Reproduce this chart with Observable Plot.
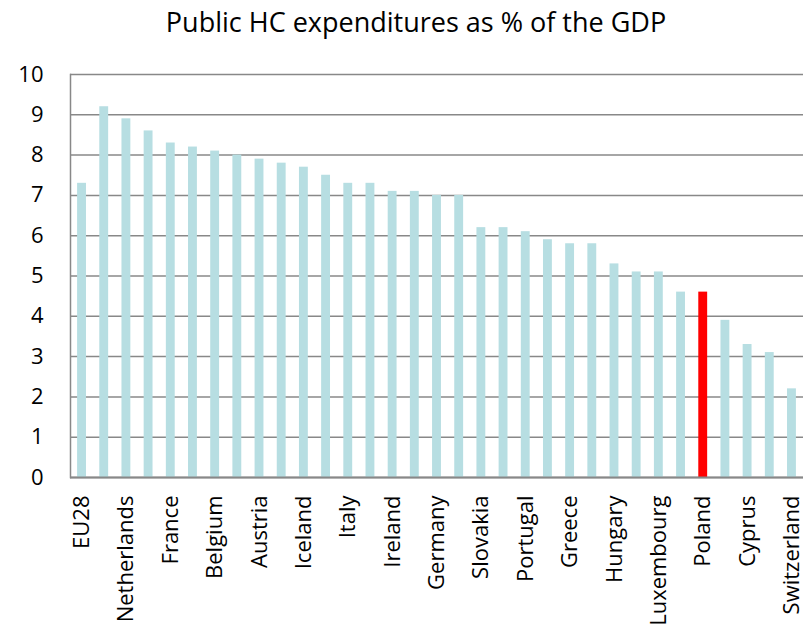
<!DOCTYPE html>
<html>
<head>
<meta charset="utf-8">
<script src="https://cdn.jsdelivr.net/npm/d3@7"></script>
<script src="https://cdn.jsdelivr.net/npm/@observablehq/plot@0.6"></script>
<style>
  html, body { margin: 0; padding: 0; background: #fff; }
  #wrap { position: relative; width: 807px; height: 627px; overflow: hidden; }
  #title { position: absolute; left: 25px; right: 0; top: 8px; text-align: center;
           font-family: "Open Sans", sans-serif; font-size: 27px; line-height: 27px; color: #000; }
  #chart { position: absolute; left: 0; top: 0; }
</style>
</head>
<body>
<div id="wrap">
  <div id="chart"></div>
  <div id="title">Public HC expenditures as % of the GDP</div>
</div>
<script>
const countries = [
  "EU28", "Denmark", "Netherlands", "Sweden", "France", "Norway", "Belgium", "Finland",
  "Austria", "United Kingdom", "Iceland", "Slovenia", "Italy", "Spain", "Ireland", "Czech Republic",
  "Germany", "Croatia", "Slovakia", "Estonia", "Portugal", "Lithuania", "Greece", "Malta",
  "Hungary", "Bulgaria", "Luxembourg", "Latvia", "Poland", "Romania", "Cyprus", "Liechtenstein",
  "Switzerland"
];
const values = [
  7.3, 9.2, 8.9, 8.6, 8.3, 8.2, 8.1, 8.0,
  7.9, 7.8, 7.7, 7.5, 7.3, 7.3, 7.1, 7.1,
  7.0, 7.0, 6.2, 6.2, 6.1, 5.9, 5.8, 5.8,
  5.3, 5.1, 5.1, 4.6, 4.6, 3.9, 3.3, 3.1,
  2.2
];
const tickLabels = [
  "EU28", "Netherlands", "France", "Belgium", "Austria", "Iceland", "Italy", "Ireland",
  "Germany", "Slovakia", "Portugal", "Greece", "Hungary", "Luxembourg", "Poland", "Cyprus",
  "Switzerland"
];
const yTicks = [0, 1, 2, 3, 4, 5, 6, 7, 8, 9, 10];
const highlight = "Poland";

const data = countries.map((c, i) => ({country: c, value: values[i]}));
const barColor = "#b7dee2";
const highlightColor = "#ff0000";
const gridColor = "#888888";

const chart = Plot.plot({
  width: 807,
  height: 627,
  marginTop: 74,
  marginBottom: 150,
  marginLeft: 70,
  marginRight: 4,
  style: {fontFamily: "'Open Sans', sans-serif", fontSize: "22px", color: "#000", background: "#fff"},
  x: {domain: countries, paddingInner: 0.6, paddingOuter: 0.32, round: false, label: null},
  y: {domain: [0, 10], label: null},
  marks: [
    Plot.gridY(yTicks, {stroke: gridColor, strokeOpacity: 1, strokeWidth: 1.5}),
    Plot.frame({anchor: "left", stroke: gridColor, strokeWidth: 1.5}),
    Plot.barY(data, {x: "country", y: "value",
      fill: d => d.country === highlight ? highlightColor : barColor}),
    Plot.ruleY([0], {stroke: gridColor, strokeWidth: 2}),
    Plot.axisY(yTicks, {tickSize: 0, tickPadding: 27, fontSize: 22, label: null}),
    Plot.axisX(tickLabels, {tickSize: 0, tickPadding: 18, tickRotate: -90, fontSize: 22, label: null})
  ]
});
document.getElementById("chart").appendChild(chart);
</script>
</body>
</html>
